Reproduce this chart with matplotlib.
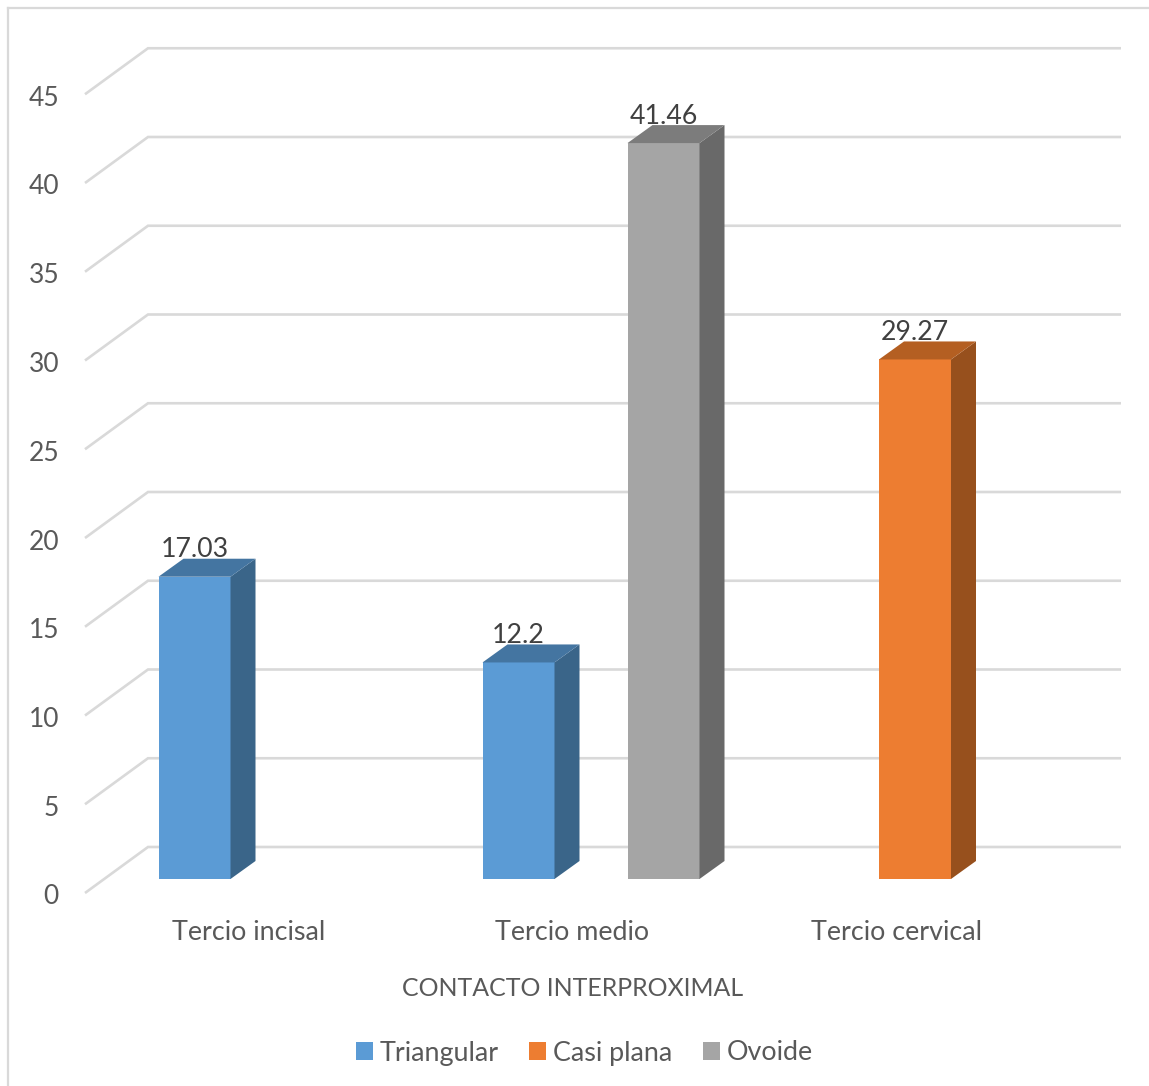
import matplotlib
matplotlib.use("Agg")
import matplotlib.pyplot as plt
from matplotlib.patches import Polygon

categories = ["Tercio incisal", "Tercio medio", "Tercio cervical"]
series_names = ["Triangular", "Casi plana", "Ovoide"]
triangular = [17.03, 12.2, None]
casi_plana = [None, None, 29.27]
ovoide = [None, 41.46, None]
y_ticks = [0, 5, 10, 15, 20, 25, 30, 35, 40, 45]

face_colors = ["#5B9BD5", "#ED7D31", "#A5A5A5"]
side_colors = ["#3A6589", "#97501D", "#696969"]
top_colors = ["#4475A1", "#B45F22", "#7C7C7C"]

W, H = 1149, 1086
PX_X = 324.0    # pixels per category
PX_Y = 17.75    # pixels per value unit
X0, Y0 = 267, 879   # where category 0 / value 0 sit on the bars' front plane

plt.rcParams["font.family"] = ["Lato", "DejaVu Sans"]
fig = plt.figure(figsize=(W / 100, H / 100), dpi=100)
ax = fig.add_axes([0, 0, 1, 1])
ax.set_xlim(-X0 / PX_X, (W - X0) / PX_X)
ax.set_ylim(-(H - Y0) / PX_Y, Y0 / PX_Y)
ax.axis("off")

bar_w = 72 / PX_X
bar_step = 72.5 / PX_X
depth_x = 25 / PX_X
depth_y = 18 / PX_Y

# floor corners of the 3D box, relative to the bars' front plane
wall_left = (148 - X0) / PX_X
wall_right = (1121 - X0) / PX_X
front_left = (85 - X0) / PX_X
front_dy = -14 / PX_Y
back_dy = 32 / PX_Y

grid = "#D9D9D9"
for v in y_ticks:
    ax.plot([front_left, wall_left, wall_right], [v + front_dy, v + back_dy, v + back_dy],
            color=grid, lw=1.9, solid_joinstyle="miter", solid_capstyle="butt", zorder=1)
    ax.text((59 - X0) / PX_X, v + front_dy - 4 / PX_Y, str(v), ha="right", va="center",
            fontsize=19, color="#595959")

all_series = [triangular, casi_plana, ovoide]
for s, values in enumerate(all_series):
    xs = []
    hs = []
    for i, val in enumerate(values):
        if val is None:
            continue
        xs.append(i + (s - 1) * bar_step)
        hs.append(val)
    ax.bar(xs, hs, width=bar_w, color=face_colors[s], label=series_names[s], zorder=3)
    for x, h in zip(xs, hs):
        l, r = x - bar_w / 2, x + bar_w / 2
        ax.add_patch(Polygon([(r, 0), (r + depth_x, depth_y), (r + depth_x, h + depth_y), (r, h)],
                             closed=True, fc=side_colors[s], ec="none", zorder=3))
        ax.add_patch(Polygon([(l, h), (l + depth_x, h + depth_y), (r + depth_x, h + depth_y), (r, h)],
                             closed=True, fc=top_colors[s], ec="none", zorder=3))
        ax.text(x, h + 27 / PX_Y, f"{h:g}", ha="center", va="center", fontsize=19.2,
                color="#404040", zorder=4)

for i, cat in enumerate(categories):
    ax.text(i - 18.5 / PX_X, -54 / PX_Y, cat, ha="center", va="center", fontsize=19.4, color="#595959")

ax.text((573 - X0) / PX_X, -110 / PX_Y, "CONTACTO INTERPROXIMAL", ha="center", va="center",
        fontsize=17.9, color="#595959")

fig.legend(loc="center", bbox_to_anchor=(584.5 / W, 1 - 1053 / H), ncols=3, frameon=False,
           fontsize=19.4, labelcolor="#595959", handlelength=0.63, handleheight=0.63,
           handletextpad=0.26, columnspacing=1.13, borderpad=0)

# chart frame, only the top and left edges show
ax.plot([(8 - X0) / PX_X] * 2, [-(H - Y0) / PX_Y, (Y0 - 8) / PX_Y], color=grid, lw=1.6, zorder=0)
ax.plot([(8 - X0) / PX_X, (W - X0) / PX_X], [(Y0 - 8) / PX_Y] * 2, color=grid, lw=1.6, zorder=0)

fig.savefig("out.png", dpi=100)
